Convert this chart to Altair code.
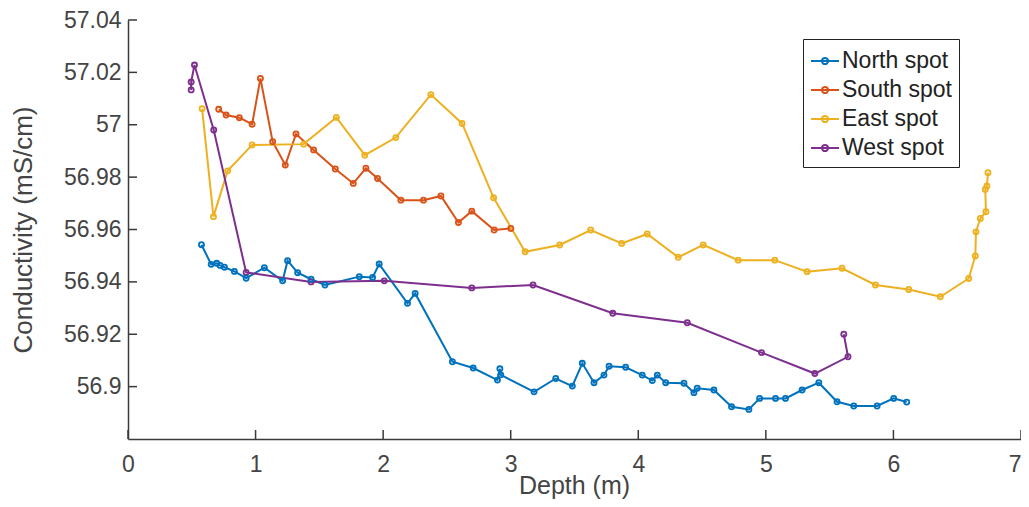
import altair as alt
import pandas as pd

# ---- data ----
north_x = [0.576, 0.652, 0.695, 0.722, 0.756, 0.834, 0.926, 1.069, 1.212, 1.251, 1.330, 1.435,
           1.544, 1.813, 1.917, 1.969, 2.191, 2.251, 2.543, 2.706, 2.896, 2.915, 2.922, 3.183,
           3.353, 3.483, 3.561, 3.653, 3.731, 3.771, 3.901, 4.031, 4.110, 4.149, 4.215, 4.358,
           4.436, 4.462, 4.593, 4.731, 4.867, 4.951, 5.076, 5.154, 5.284, 5.415, 5.558, 5.689,
           5.872, 6.002, 6.104]
north_y = [56.9542, 56.9467, 56.9471, 56.9463, 56.9456, 56.9440, 56.9414, 56.9454, 56.9404, 56.9481,
           56.9435, 56.9410, 56.9388, 56.9420, 56.9417, 56.9468, 56.9318, 56.9356, 56.9095, 56.9071,
           56.9025, 56.9068, 56.9045, 56.8980, 56.9031, 56.9002, 56.9089, 56.9015, 56.9044, 56.9078,
           56.9074, 56.9044, 56.9023, 56.9044, 56.9015, 56.9013, 56.8977, 56.8994, 56.8987, 56.8923,
           56.8913, 56.8955, 56.8955, 56.8955, 56.8987, 56.9015, 56.8942, 56.8926, 56.8926, 56.8955,
           56.8941]

south_x = [0.711, 0.769, 0.873, 0.973, 1.038, 1.134, 1.233, 1.317, 1.455, 1.625, 1.766, 1.865,
           1.956, 2.139, 2.316, 2.453, 2.590, 2.695, 2.870, 3.001]
south_y = [57.0059, 57.0037, 57.0027, 57.0002, 57.0177, 56.9935, 56.9846, 56.9965, 56.9904, 56.9831,
           56.9776, 56.9834, 56.9795, 56.9712, 56.9712, 56.9728, 56.9627, 56.9670, 56.9598, 56.9604]

east_x = [0.581, 0.670, 0.781, 0.973, 1.377, 1.633, 1.856, 2.099, 2.374, 2.619, 2.866, 3.113,
          3.384, 3.627, 3.870, 4.070, 4.313, 4.509, 4.783, 5.070, 5.323, 5.597, 5.859, 6.120,
          6.368, 6.590, 6.642, 6.647, 6.681, 6.725, 6.720, 6.733, 6.741]
east_y = [57.0061, 56.9649, 56.9824, 56.9923, 56.9926, 57.0028, 56.9884, 56.9951, 57.0115, 57.0005,
          56.9721, 56.9515, 56.9541, 56.9598, 56.9547, 56.9583, 56.9494, 56.9541, 56.9483, 56.9483,
          56.9439, 56.9452, 56.9388, 56.9371, 56.9343, 56.9413, 56.9499, 56.9591, 56.9642, 56.9668,
          56.9753, 56.9766, 56.9817]

west_x = [0.495, 0.495, 0.521, 0.672, 0.926, 1.435, 2.009, 2.695, 3.175, 3.800, 4.384, 4.966,
          5.384, 5.644, 5.611]
west_y = [57.0133, 57.0163, 57.0228, 56.9980, 56.9436, 56.9400, 56.9404, 56.9377, 56.9388, 56.9280,
          56.9244, 56.9130, 56.9050, 56.9114, 56.9200]

series_names = ["North spot", "South spot", "East spot", "West spot"]
series_colors = ["#0072BD", "#D95319", "#EDB120", "#7E2F8E"]
x_ticks = [0, 1, 2, 3, 4, 5, 6, 7]
y_ticks = [56.90, 56.92, 56.94, 56.96, 56.98, 57.00, 57.02, 57.04]

rows = []
for name, xs_, ys_ in zip(series_names, [north_x, south_x, east_x, west_x],
                          [north_y, south_y, east_y, west_y]):
    for i, (a, b) in enumerate(zip(xs_, ys_)):
        rows.append({"series": name, "depth": a, "cond": b, "idx": i})
df = pd.DataFrame(rows)
tx = pd.DataFrame({"depth": x_ticks})
ty = pd.DataFrame({"cond": y_ticks})

W, H = 893, 419
AX = "#3a3a3a"
FONT = "Liberation Sans"

xs = alt.Scale(domain=[0, 7], nice=False, zero=False)
ys = alt.Scale(domain=[56.88, 57.04], nice=False, zero=False)

x_axis = alt.Axis(values=x_ticks, format="d", title="Depth (m)", tickSize=0,
                  labelPadding=14, labelFlush=False, grid=False,
                  labelAlign={"condition": {"test": "datum.value >= 7", "value": "right"},
                              "value": "center"},
                  titleX=446, titleY=34, titleBaseline="top", titleFontSize=25)
y_axis = alt.Axis(values=y_ticks, format=".2~f", title="Conductivity (mS/cm)",
                  tickSize=0, labelPadding=7, labelFlush=False, grid=False, titleX=-92)

sym = "M-1,0L1,0M-0.22,0A0.22,0.22,0,1,1,0.22,0A0.22,0.22,0,1,1,-0.22,0"

lines = alt.Chart(df).mark_line(
    strokeWidth=2,
    point=alt.OverlayMarkDef(filled=False, size=26, strokeWidth=1.8),
).encode(
    x=alt.X("depth:Q", scale=xs, axis=x_axis),
    y=alt.Y("cond:Q", scale=ys, axis=y_axis),
    color=alt.Color("series:N",
                    scale=alt.Scale(domain=series_names, range=series_colors),
                    legend=alt.Legend(title=None, orient="none", legendX=675, legendY=19,
                                      strokeColor="#222", fillColor="white",
                                      padding=7, symbolType=sym, symbolSize=784,
                                      symbolStrokeWidth=2, labelFontSize=23,
                                      labelFont=FONT, labelColor="#222",
                                      labelOffset=2, rowPadding=2)),
    order=alt.Order("idx:Q"),
)

xt = alt.Chart(tx).mark_rule(color=AX, strokeWidth=1.5).encode(
    x=alt.X("depth:Q", scale=xs, axis=x_axis), y=alt.value(H), y2=alt.value(H - 9))
yt = alt.Chart(ty).mark_rule(color=AX, strokeWidth=1.5).encode(
    y=alt.Y("cond:Q", scale=ys, axis=y_axis), x=alt.value(0), x2=alt.value(9))

chart = alt.layer(xt, yt, lines).properties(
    width=W, height=H,
    autosize=alt.AutoSizeParams(type="none"),
    padding={"left": 120, "top": 12, "right": 0, "bottom": 60},
    background="white",
).configure_view(stroke=None).configure_axis(
    domainColor=AX, domainWidth=1.5, labelFont=FONT, titleFont=FONT,
    labelFontSize=23, titleFontSize=26, labelColor="#444", titleColor="#444",
    titleFontWeight="normal",
)

chart.save("out.html", embed_options={"renderer": "svg", "actions": False})
